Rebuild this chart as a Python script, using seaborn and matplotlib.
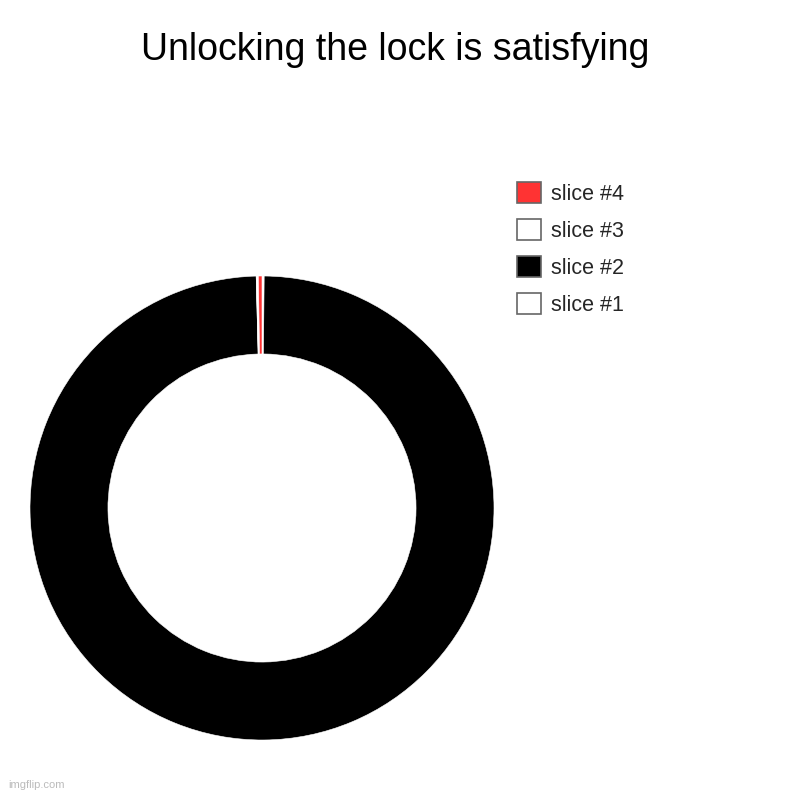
import matplotlib
matplotlib.use("Agg")
import matplotlib.pyplot as plt
import seaborn as sns
from matplotlib.patches import Patch

sns.set_style("white")
plt.rcParams["font.family"] = ["Liberation Sans", "DejaVu Sans"]

# slice data (clockwise from 12 o'clock)
labels = ["slice #1", "slice #2", "slice #3", "slice #4"]
values = [0.15, 99.45, 0.15, 0.25]
colors = ["#ffffff", "#000000", "#ffffff", "#ff3333"]

fig = plt.figure(figsize=(8, 8), dpi=100)
fig.patch.set_facecolor("white")

ax = fig.add_axes([30 / 800, 60 / 800, 464 / 800, 464 / 800])
ax.pie(
    values,
    colors=colors,
    startangle=90,
    counterclock=False,
    radius=1.0,
    wedgeprops=dict(width=0.336, edgecolor="white", linewidth=0.4),
)
ax.set_xlim(-1, 1)
ax.set_ylim(-1, 1)
ax.set_aspect("equal")
ax.axis("off")

fig.text(0.494, 0.938, "Unlocking the lock is satisfying", ha="center", va="center",
         fontsize=27, color="black")

# legend, listed last slice first like the reference
handles = [Patch(facecolor=c, edgecolor="#666666", linewidth=1.2) for c in colors]
leg = fig.legend(
    handles[::-1], labels[::-1],
    loc="upper left", bbox_to_anchor=(0.636, 0.783),
    frameon=False, fontsize=15.5,
    handlelength=1.1, handleheight=1.1, handletextpad=0.45,
    labelspacing=0.67, borderaxespad=0,
)

fig.text(0.01, 0.012, "imgflip.com", fontsize=8, color="#bbbbbb", ha="left", va="bottom")

fig.savefig("out.png", dpi=100, facecolor="white")
